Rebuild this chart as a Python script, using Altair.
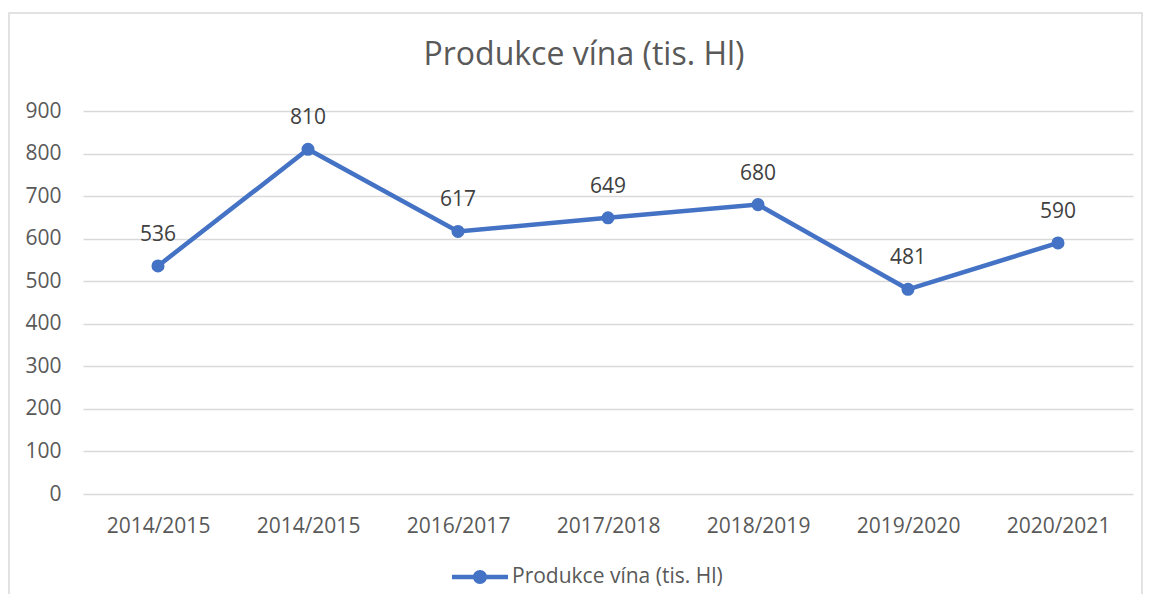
import altair as alt
import pandas as pd

categories = ["2014/2015", "2014/2015", "2016/2017", "2017/2018", "2018/2019", "2019/2020", "2020/2021"]
values = [536, 810, 617, 649, 680, 481, 590]
series_name = "Produkce vína (tis. Hl)"
y_ticks = [0, 100, 200, 300, 400, 500, 600, 700, 800, 900]

df = pd.DataFrame({
    "idx": list(range(len(categories))),
    "cat": categories,
    "value": values,
    "series": [series_name] * len(categories),
})

FONT = "Open Sans"
BLUE = "#4472C4"
label_expr = "[" + ",".join("'" + c + "'" for c in categories) + "][datum.value]"

x_enc = alt.X("idx:O", title=None,
              scale=alt.Scale(type="point", padding=0.5),
              axis=alt.Axis(labelExpr=label_expr, labelAngle=0, ticks=False, domain=False,
                            grid=False, labelPadding=21, labelFontSize=21, labelFont=FONT,
                            labelColor="#595959"))
y_enc = alt.Y("value:Q", title=None,
              scale=alt.Scale(domain=[0, 900], nice=False),
              axis=alt.Axis(values=y_ticks, ticks=False, domain=False, grid=True,
                            gridColor="#D9D9D9", gridWidth=1.5, labelPadding=22,
                            labelFontSize=21, labelFont=FONT, labelColor="#595959"))

legend_symbol = ("M -1 -0.08 L 1 -0.08 L 1 0.08 L -1 0.08 Z "
                 "M 0.25 0 A 0.25 0.25 0 1 1 -0.25 0 A 0.25 0.25 0 1 1 0.25 0 Z")

base = alt.Chart(df)

frame = alt.Chart(alt.Data(values=[{"f": 1}])).mark_rect(
    filled=False, stroke="#D9D9D9", strokeWidth=1.5
).encode(x=alt.value(-74), x2=alt.value(1059), y=alt.value(-98), y2=alt.value(530))

line = base.mark_line(strokeWidth=4.5).encode(
    x=x_enc, y=y_enc,
    color=alt.Color("series:N", title=None,
                    scale=alt.Scale(range=[BLUE]),
                    legend=alt.Legend(orient="none", legendX=369, legendY=438,
                                      symbolType=legend_symbol, symbolSize=3136,
                                      symbolStrokeWidth=0, symbolFillColor=BLUE,
                                      labelFont=FONT, labelFontSize=21, labelLimit=500,
                                      labelColor="#595959", labelOffset=4,
                                      padding=0)),
)

points = base.mark_point(filled=True, size=170, opacity=1, color=BLUE).encode(
    x=x_enc, y=y_enc)

labels = base.mark_text(dy=-25, baseline="alphabetic", font=FONT, fontSize=21,
                        color="#404040").encode(
    x=x_enc, y=y_enc, text=alt.Text("value:Q"))

chart = alt.layer(frame, line, points, labels).properties(
    width=1050, height=383,
    autosize=alt.AutoSizeParams(type="none"),
    padding={"left": 75, "top": 103, "right": 10, "bottom": 100},
    title=alt.TitleParams(text=series_name, font=FONT, fontSize=32, fontWeight="normal",
                          color="#595959", anchor="middle", frame="group",
                          baseline="alphabetic", offset=-85, dx=-24),
).configure_view(stroke=None)

chart.save("out.html", embed_options={"renderer": "svg", "actions": False})
